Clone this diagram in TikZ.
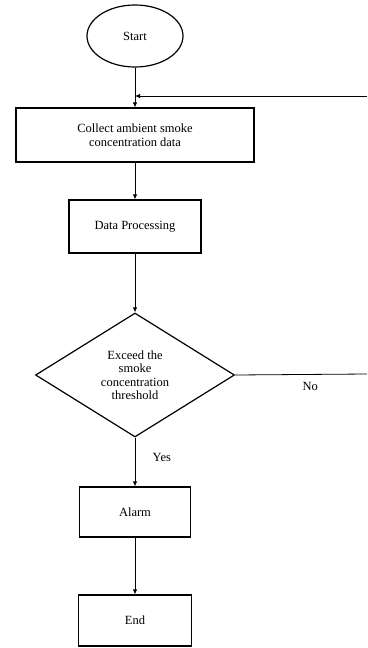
\documentclass[tikz,border=0pt]{standalone}
\usepackage{fontspec}
\setmainfont{Liberation Serif}
\usetikzlibrary{shapes.geometric,arrows.meta}

\tikzset{
  box/.style={draw,line width=1.2pt,rectangle,align=center,inner sep=2pt},
  term/.style={draw,line width=1.2pt,ellipse,inner sep=0pt},
  decision/.style={draw,line width=1.2pt,diamond,align=center,inner sep=0pt},
  flow/.style={line width=0.8pt,-{Latex[length=5pt,width=4.5pt]}},
}

\begin{document}
\begin{tikzpicture}[x=1pt,y=-1pt,font=\fontsize{12.5}{13.5}\selectfont]
  \useasboundingbox (0,0) rectangle (367,648);

  % Nodes
  \node[term,minimum width=96pt,minimum height=62pt] (start) at (135,36) {Start};
  \node[box,minimum width=238pt,minimum height=54pt] (collect) at (135,135)
    {Collect ambient smoke\\concentration data};
  \node[box,minimum width=132pt,minimum height=53pt] (process) at (135,226.5) {Data Processing};
  \node[decision,minimum width=199pt,minimum height=124pt] (decide) at (135,375)
    {Exceed the\\smoke\\concentration\\threshold};
  \node[box,minimum width=111pt,minimum height=50pt] (alarm) at (135,512) {Alarm};
  \node[box,minimum width=113pt,minimum height=51pt] (stop) at (135,620.5) {End};

  % Loop back
  \coordinate (loopin) at (135,96);
  \coordinate (loopout) at (367,96);
  \coordinate (noout) at (367,374);

  % Connectors
  \draw[flow] (start) -- (collect);
  \draw[flow] (collect) -- (process);
  \draw[flow] (process) -- (decide);
  \draw[flow] (decide) -- node[right=14pt,pos=0.4] {Yes} (alarm);
  \draw[flow] (alarm) -- (stop);
  \draw[line width=0.8pt] (decide.east) -- node[below=4pt,pos=0.57] {No} (noout);
  \draw[flow] (loopout) -- (loopin);

\end{tikzpicture}
\end{document}
